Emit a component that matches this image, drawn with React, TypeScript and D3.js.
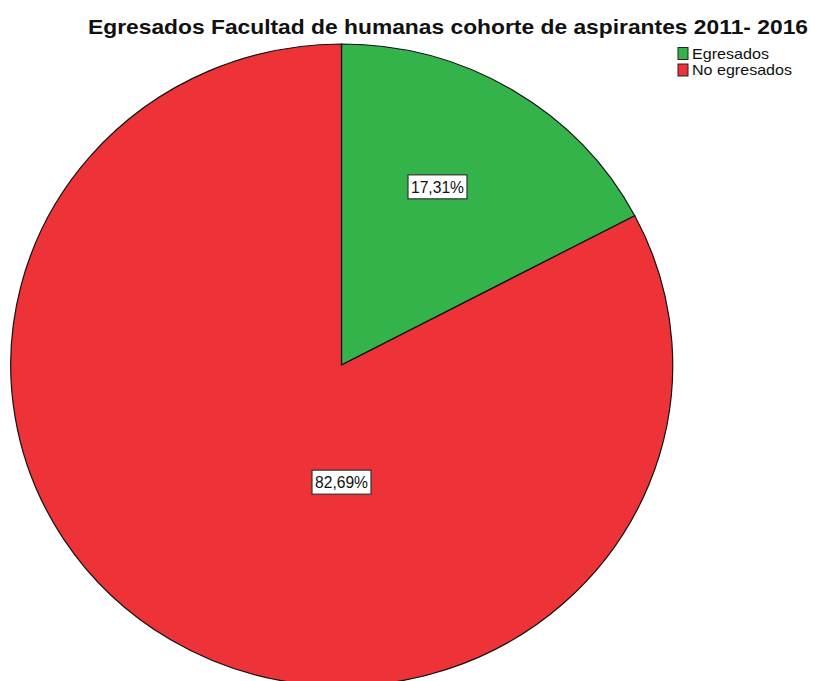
import React from "react";
import * as d3 from "d3";

const categories = ["Egresados", "No egresados"];
const values = [17.31, 82.69];
const colors = ["#34b34a", "#ee3338"];
const labels = ["17,31%", "82,69%"];
const title = "Egresados Facultad de humanas cohorte de aspirantes 2011- 2016";

// layout constants (radius units relative to centre)
const labelPos = [
  { fx: 0.29, fy: -0.555 },
  { fx: 0.0, fy: 0.365 },
];

const W = 815;
const H = 681;
const cx = 341.5;
const cy = 365;
const rx = 331;
const ry = 321;

export default function App() {
  const pie = d3.pie<number>().sort(null).startAngle(0).endAngle(2 * Math.PI);
  const arcs = pie(values);
  const arc = d3.arc<d3.PieArcDatum<number>>().innerRadius(0).outerRadius(1);
  const font = "'Liberation Sans', Arial, sans-serif";
  return (
    <svg
      width={W}
      height={H}
      style={{ position: "absolute", left: 0, top: 0, background: "#fff" }}
      fontFamily={font}
    >
      <rect width={W} height={H} fill="#fff" />
      <g transform={`translate(${cx},${cy}) scale(${rx},${ry})`}>
        {arcs.map((a, i) => (
          <path
            key={i}
            d={arc(a) || ""}
            fill={colors[i]}
            stroke="#111"
            strokeWidth={1.2}
            vectorEffect="non-scaling-stroke"
          />
        ))}
      </g>
      {arcs.map((a, i) => {
        const x = cx + labelPos[i].fx * rx;
        const y = cy + labelPos[i].fy * ry;
        const w = 59;
        const h = 24;
        return (
          <g key={i}>
            <rect
              x={x - w / 2}
              y={y - h / 2}
              width={w}
              height={h}
              fill="#fff"
              stroke="#333"
              strokeWidth={1.2}
            />
            <text
              x={x}
              y={y + 6}
              textAnchor="middle"
              fontSize={16}
              fill="#111"
              textLength={53}
              lengthAdjust="spacingAndGlyphs"
            >
              {labels[i]}
            </text>
          </g>
        );
      })}
      <text
        x={448}
        y={34}
        textAnchor="middle"
        fontSize={20.5}
        fontWeight="bold"
        fill="#111"
        textLength={720}
        lengthAdjust="spacingAndGlyphs"
      >
        {title}
      </text>
      {categories.map((c, i) => (
        <g key={c}>
          <rect
            x={678}
            y={47.5 + i * 16.5}
            width={10}
            height={12}
            fill={colors[i]}
            stroke="#222"
            strokeWidth={1}
          />
          <text
            x={692}
            y={58.5 + i * 16.5}
            fontSize={14.5}
            fill="#111"
            textLength={i === 0 ? 77 : 100}
            lengthAdjust="spacingAndGlyphs"
          >
            {c}
          </text>
        </g>
      ))}
    </svg>
  );
}
